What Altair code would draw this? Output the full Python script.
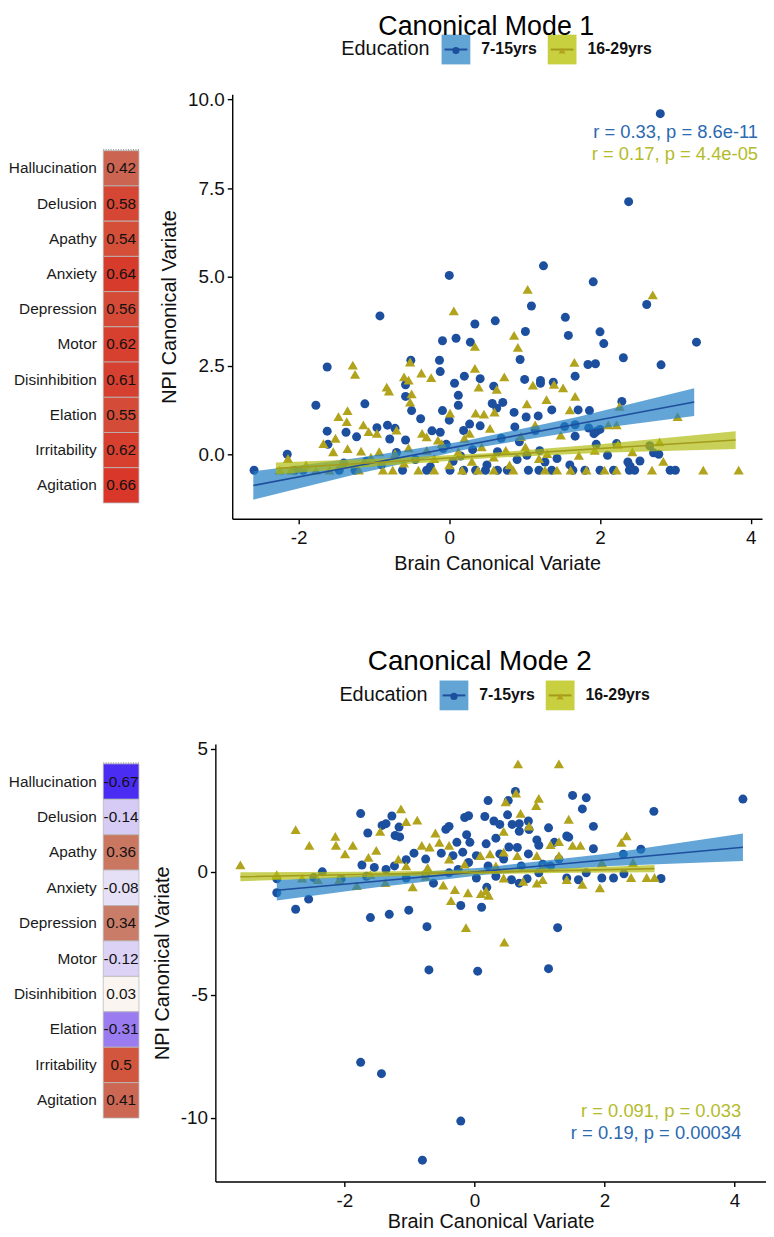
import altair as alt
import pandas as pd

# ---------------- data ----------------
symptoms = ["Hallucination", "Delusion", "Apathy", "Anxiety", "Depression",
            "Motor", "Disinhibition", "Elation", "Irritability", "Agitation"]
mode1_loadings = [0.42, 0.58, 0.54, 0.64, 0.56, 0.62, 0.61, 0.55, 0.62, 0.66]
mode2_loadings = [-0.67, -0.14, 0.36, -0.08, 0.34, -0.12, 0.03, -0.31, 0.5, 0.41]

loading_stops = [-0.67, -0.31, -0.14, -0.08, 0.03, 0.34, 0.42, 0.5, 0.66]
loading_colors = ["#4b2cf2", "#9a7cf0", "#d5cbf5", "#e6e0f7", "#faf5f0",
                  "#c97d68", "#cb6450", "#d2553d", "#d8372a"]

groups = ["7-15yrs", "16-29yrs"]
point_colors = ["#1d4f9f", "#b2a31c"]
point_sizes = [82, 105]
band_colors = ["#1f7fc4", "#b0bc10"]
line_colors = ["#1f4e9c", "#a39b1c"]
label_colors = ["#2b69b0", "#b4bb2a"]
legend_box_colors = ["#62a5d5", "#c8d040"]
shapes = ["circle", "triangle-up"]

# Mode 1, 7-15yrs (circles)
m1_c_x = [2.8, 2.38, 1.25, 0.0, 1.91, 2.62, 1.09, -0.92, 1.54, 0.61, 0.34, 1.01, 2.0, 1.58, 0.09,
          -0.09, 0.28, 2.05, 3.28, 0.94, -0.13, -0.51, 2.31, 1.84, 1.94, 2.81, -1.62, -0.12, 0.2, 1.67,
          0.41, 1.0, 1.21, 1.38, 1.21, 0.07, -0.58, 0.59, -0.58, 0.12, 0.71, 0.57, 2.29, -1.77, -1.12,
          0.12, 0.63, -0.5, -0.09, 1.71, 1.86, 1.36, 0.86, 1.18, -0.38, 1.02, 0.0, 0.41, 0.87, 0.27,
          1.67, 1.85, -0.82, -0.72, -0.96, -1.62, -1.37, -0.23, -0.12, 0.19, 1.14, 1.53, 1.95, 2.0, 1.67,
          1.92, 0.69, 0.93, -1.23, -0.79, -0.58, -0.04, -1.61, 1.95, 2.22, -0.08, 2.66, 2.71, 2.78, 2.1,
          -2.15, 2.53, 2.37, 2.4, 0.31, 0.64, 1.03, 1.27, 1.43,
          -2.59, -2.05, -1.94, -1.46, -1.25, -0.62, -0.3, 0.01, 0.19, 0.35, 0.48, 0.64, 0.77, 1.05, 1.19,
          1.36, 1.64, 1.8, 2.0, 2.18, 2.39, 2.46, 2.93, 3.0,
          -1.1, -0.9, -0.45, 0.05, 0.5, 0.9, 1.2, -0.7, -0.25, 1.6, 0.15, -1.4]
m1_c_y = [9.6, 7.12, 5.31, 5.04, 4.86, 4.22, 4.18, 3.9, 3.86, 3.76, 3.67, 3.46, 3.45, 3.35, 3.27,
          3.2, 3.16, 3.12, 3.16, 2.67, 2.65, 2.65, 2.72, 2.53, 2.55, 2.52, 2.46, 2.33, 2.2, 2.2,
          2.13, 2.11, 2.08, 2.03, 2.0, 2.0, 1.96, 1.92, 1.63, 1.66, 1.46, 1.43, 1.49, 1.38, 1.42,
          1.38, 1.3, 1.23, 1.23, 1.25, 1.23, 1.25, 1.18, 1.08, 1.0, 1.05, 0.96, 0.8, 0.77, 0.85,
          0.83, 0.74, 0.82, 0.73, 0.75, 0.65, 0.62, 0.66, 0.62, 0.67, 0.67, 0.78, 0.64, 0.7, 0.51,
          0.58, 0.45, 0.35, 0.49, 0.43, 0.4, 0.28, 0.28, 0.28, 0.3, 0.16, 0.24, 0.04, 0.0, -0.03,
          0.0, -0.19, -0.22, -0.34, 0.13, 0.07, -0.03, -0.22, -0.12,
          -0.45, -0.45, -0.45, -0.45, -0.45, -0.45, -0.45, -0.45, -0.45, -0.45, -0.45, -0.45, -0.45, -0.45, -0.45,
          -0.45, -0.45, -0.45, -0.45, -0.45, -0.45, -0.45, -0.45, -0.45,
          -0.2, -0.3, -0.15, -0.2, -0.3, -0.15, 0.1, 0.05, -0.35, -0.3, -0.05, -0.25]

# Mode 1, 16-29yrs (triangles)
m1_t_x = [2.7, 1.04, 0.06, 0.86, 0.91, 0.34, -0.52, -1.28, -1.25, 1.66, -0.37, -0.24, -0.6, -0.54, 0.73,
          0.34, 1.11, 1.39, 1.51, -0.83, -0.8, 0.63, 0.39, 1.67, -0.5, -0.52, 1.03, 1.29, 1.6, -1.47,
          -1.35, -1.36, 0.01, 0.35, 0.46, 0.6, 2.26, 3.03, -1.14, -1.07, -0.96, -0.7, -0.36, -0.3, -0.15,
          0.27, 0.54, 1.14, 1.48, 2.11, 2.22, 2.79, 2.24, -1.51, -1.67, -1.54, -1.35, -1.17, -0.93, -0.72,
          -0.54, -0.3, 0.12, 0.43, 0.75, 1.01, 1.3, 1.72, 1.93, 2.43, 2.84, -2.14, -1.04, -0.2, 0.59, 1.19,
          -2.25, -2.1, -1.77, -1.59, -1.2, -0.88, -0.75, -0.41, -0.2, 0.17, 0.38, 0.59, 0.85, 1.27, 1.43,
          1.61, 1.82, 2.06, 2.22, 2.69, 3.37, 3.84,
          -0.6, 0.0, 0.3, 0.8, -1.9, -0.1, 0.2, 0.95]
m1_t_y = [4.49, 4.65, 4.04, 3.35, 3.01, 3.04, 2.6, 2.51, 2.25, 2.59, 2.29, 2.16, 2.18, 2.09, 2.18,
          2.42, 1.95, 1.97, 1.87, 1.89, 1.78, 1.83, 1.89, 1.63, 1.7, 1.47, 1.42, 1.54, 1.25, 1.06,
          1.23, 0.92, 1.16, 1.16, 1.13, 1.19, 1.35, 1.06, 0.83, 0.64, 0.59, 0.68, 0.59, 0.49, 0.4,
          0.59, 0.73, 0.83, 0.54, 0.83, 0.83, 0.35, 0.28, 0.45, 0.3, 0.07, 0.16, 0.09, 0.07, 0.02,
          0.18, 0.11, 0.07, 0.21, 0.11, 0.21, 0.02, -0.03, 0.11, 0.07, -0.2, -0.12, -0.08, -0.12, -0.08, -0.12,
          -0.45, -0.45, -0.45, -0.45, -0.45, -0.45, -0.45, -0.45, -0.45, -0.45, -0.45, -0.45, -0.45, -0.45, -0.45,
          -0.45, -0.45, -0.45, -0.45, -0.45, -0.45, -0.45,
          -0.25, -0.3, -0.2, -0.3, -0.3, 0.3, 0.45, 0.5]

# Mode 2, 7-15yrs (circles)
m2_c_x = [4.13, 2.76, 1.51, 1.72, 1.66, 1.83, 1.83, 2.56, 2.29, 2.3, 2.87, 2.14, 1.96, 0.63, 0.52,
          0.21, 0.51, 0.16, -0.09, -0.15, -1.75, -1.27, -1.36, -1.42, -1.16, -1.22, -1.15, -1.64, -0.39, -0.44,
          0.3, 0.39, 0.58, 0.69, 0.83, 0.84, 0.69, 1.14, 1.45, 1.42, 1.23, 0.96, -0.12, -0.27, -0.07,
          0.18, 0.33, 0.53, 0.66, 0.99, 0.83, -0.93, -1.05, -0.75, -0.51, -0.33, -0.18, 0.03, 0.39, -1.73,
          -1.54, -1.36, -1.23, -2.34, -3.04, -3.04, -2.75, -2.55, -2.47, -2.05, -1.6, -1.31, -1.01, -0.73, -0.21,
          0.11, 0.19, -0.63, 0.69, 0.81, 1.28, -0.7, 0.05, 1.14, -1.75, -1.43, -0.21, -0.8,
          -1.66, -1.05, -0.75, -0.39, 0.03, 0.33, 0.57, 0.99, 1.17, 1.42, 1.6, 1.72, 1.3, 1.05,
          -0.25, -0.09, 0.21, 0.45, 0.72]
m2_c_y = [2.96, 2.46, 3.11, 3.01, 2.56, 1.85, 0.94, 0.92, 0.72, -0.08, -0.27, -0.25, -0.25, 3.27, 2.9,
          2.9, 2.32, 2.25, 2.28, 2.21, 2.37, 2.27, 1.96, 1.89, 1.82, 1.48, 1.42, 1.58, 1.85, 1.73,
          2.07, 1.93, 1.93, 1.96, 2.07, 1.72, 1.65, 1.79, 1.41, 1.46, 1.2, 1.3, 1.51, 1.2, 1.2,
          1.14, 1.37, 1.01, 0.99, 1.08, 0.73, 0.76, 0.49, 0.52, 0.76, 0.66, 0.8, 0.66, 0.73, 0.28,
          0.18, 0.1, 0.24, 0.0, -0.28, -0.85, -1.52, -1.11, -0.23, -0.28, -1.86, -1.73, -1.56, -2.23, -1.37,
          -1.44, -0.63, -0.46, -0.46, -0.28, -2.27, -3.99, -4.04, -3.94, -7.75, -8.21, -10.14, -11.73,
          -0.18, -0.25, -0.11, -0.04, -0.25, -0.18, -0.32, -0.04, 0.24, -0.25, -0.32, -0.04, 0.52, 0.31,
          0.1, 0.38, 0.24, 0.52, 0.24]

# Mode 2, 16-29yrs (triangles)
m2_t_x = [0.67, 1.3, 0.64, 0.99, 0.95, 0.48, -1.13, 1.45, 0.71, -0.88, -2.75, -1.05, -1.45, -0.6, 0.45,
          0.84, -2.14, 2.34, 2.26, -2.54, -1.87, -2.13, -1.99, -1.51, -0.81, -0.69, -0.54, -0.39, 1.17, 1.3,
          1.51, 1.63, -0.39, 0.09, 0.24, 0.45, 0.66, 0.96, 1.3, -3.6, -1.17, -1.63, -1.05, -0.72, -0.15,
          0.33, 1.05, 1.96, 2.44, -2.65, -2.41, -2.08, -1.81, -1.37, -0.95, -0.48, -0.3, -0.1, 0.18, 0.22,
          -0.36, 0.1, 0.75, 0.96, 1.66, 1.93, 2.41, 2.65, 2.77, 1.05, 1.42, -0.13, 0.46,
          0.45, -0.75, -1.6, -3.04]
m2_t_y = [4.39, 4.39, 3.2, 2.99, 2.7, 2.85, 2.56, 2.14, 2.38, 2.1, 1.72, 2.04, 1.65, 1.58, 1.65,
          1.86, 1.44, 1.46, 1.2, 1.08, 1.08, 1.08, 0.73, 0.87, 1.08, 1.01, 1.2, 1.08, 1.11, 1.23,
          1.08, 1.08, 0.52, 0.66, 0.73, 0.8, 0.66, 0.66, 0.66, 0.28, 0.52, 0.59, 0.24, 0.17, 0.31,
          0.24, 0.17, 0.38, 0.38, -0.25, -0.32, -0.32, -0.56, -0.44, -0.61, -0.54, -0.72, -0.85, -0.77, -0.96,
          -1.17, -0.89, -0.39, -0.46, -0.51, -0.65, -0.23, -0.23, -0.23, -0.32, -0.32, -2.27, -2.86,
          -0.25, -0.18, -0.11, -0.11]

# regression fits: x, fitted value, lower and upper confidence limits
m1_c_fit_x = [-2.6, -1.2, 0.2, 1.7, 3.25]
m1_c_fit = [-0.88, -0.32, 0.25, 0.85, 1.47]
m1_c_lo = [-1.28, -0.54, 0.13, 0.65, 1.08]
m1_c_hi = [-0.48, -0.10, 0.37, 1.05, 1.86]
m1_t_fit_x = [-2.3, -0.8, 0.5, 2.0, 3.8]
m1_t_fit = [-0.40, -0.21, -0.04, 0.16, 0.40]
m1_t_lo = [-0.57, -0.31, -0.11, 0.04, 0.15]
m1_t_hi = [-0.23, -0.11, 0.03, 0.28, 0.65]
m2_c_fit_x = [-3.04, -1.5, 0.2, 2.0, 4.13]
m2_c_fit = [-0.75, -0.38, 0.04, 0.48, 1.0]
m2_c_lo = [-1.17, -0.63, -0.11, 0.23, 0.44]
m2_c_hi = [-0.33, -0.13, 0.19, 0.73, 1.56]
m2_t_fit_x = [-3.6, -1.8, 0.0, 1.5, 2.77]
m2_t_fit = [-0.2, -0.11, -0.02, 0.06, 0.13]
m2_t_lo = [-0.38, -0.22, -0.10, -0.04, -0.02]
m2_t_hi = [-0.02, 0.0, 0.06, 0.16, 0.28]

# correlation labels, in the order of `groups`
m1_stats = ["r = 0.33, p = 8.6e-11", "r = 0.17, p = 4.4e-05"]
m2_stats = ["r = 0.19, p = 0.00034", "r = 0.091, p = 0.033"]

FONT = "Liberation Sans"
MINUS_FIX = "replace(datum.label, '\u2212', '-')"


def heatmap(loadings, top, cell_h, width=36):
    df = pd.DataFrame({"symptom": symptoms, "loading": loadings,
                       "label": [f"{v:g}" for v in loadings]})
    yenc = alt.Y("symptom:N", sort=symptoms,
                 scale=alt.Scale(range=[top, top + cell_h], paddingInner=0, paddingOuter=0),
                 axis=alt.Axis(title=None, domain=False, ticks=False, labelFontSize=15.5,
                               labelFont=FONT, labelColor="#1a1a1a", labelPadding=7))
    rect = alt.Chart(df).mark_rect(stroke="#b9b9b9", strokeWidth=0.8).encode(
        y=yenc,
        fill=alt.Fill("loading:Q", legend=None,
                      scale=alt.Scale(domain=loading_stops, range=loading_colors, interpolate="rgb")))
    txt = alt.Chart(df).mark_text(fontSize=15.5, font=FONT, color="#111111").encode(
        y=yenc, x=alt.value(width / 2), text="label:N")
    edge = alt.Chart(pd.DataFrame({"symptom": [symptoms[0]]})).mark_rule(
        color="#9a9a9a", strokeDash=[1, 1.5], strokeWidth=1.5).encode(
        x=alt.value(0), x2=alt.value(width), y=alt.value(top - 1))
    return alt.layer(rect, txt, edge).properties(width=width, height=top + cell_h + 2)


def scatter(cx, cy, tx, ty, fits, xdom, ydom, yvals, yexpr, width, height,
            title, stats, stat_y, stat_order, stat_right, leg_left, leg_y, title_dx, title_offset,
            xtitle_pad, title_size):
    pts = pd.DataFrame({"x": cx + tx, "y": cy + ty,
                        "group": [groups[0]] * len(cx) + [groups[1]] * len(tx)})
    rows = []
    for g, (fx, ff, flo, fhi) in zip(groups, fits):
        for a, b, c, d in zip(fx, ff, flo, fhi):
            rows.append({"group": g, "x": a, "fit": b, "lo": c, "hi": d})
    fitdf = pd.DataFrame(rows)

    xscale = alt.Scale(domain=xdom, nice=False, zero=False)
    yscale = alt.Scale(domain=ydom, nice=False, zero=False)
    ax = dict(grid=False, domainColor="#000000", domainWidth=1.4, tickColor="#000000",
              tickWidth=1.4, tickSize=5, labelFontSize=19, labelFont=FONT, labelColor="#111111",
              titleFontSize=20, titleFont=FONT, titleFontWeight="normal", titleColor="#111111")
    xaxis = alt.Axis(title="Brain Canonical Variate", values=[-2, 0, 2, 4], labelExpr=MINUS_FIX,
                     labelPadding=5, titlePadding=xtitle_pad, **ax)
    yaxis = alt.Axis(title="NPI Canonical Variate", values=yvals, labelExpr=yexpr,
                     labelPadding=3, titlePadding=8, **ax)

    points = alt.Chart(pts).mark_point(filled=True, opacity=1).encode(
        x=alt.X("x:Q", scale=xscale, axis=xaxis),
        y=alt.Y("y:Q", scale=yscale, axis=yaxis),
        color=alt.Color("group:N", scale=alt.Scale(domain=groups, range=point_colors), legend=None),
        shape=alt.Shape("group:N", scale=alt.Scale(domain=groups, range=shapes), legend=None),
        size=alt.Size("group:N", scale=alt.Scale(domain=groups, range=point_sizes), legend=None),
    )
    band = alt.Chart(fitdf).mark_area(opacity=0.7).encode(
        x=alt.X("x:Q", scale=xscale, axis=xaxis),
        y=alt.Y("lo:Q", scale=yscale, axis=yaxis),
        y2="hi:Q",
        fill=alt.Fill("group:N", scale=alt.Scale(domain=groups, range=band_colors), legend=None),
    )
    line = alt.Chart(fitdf).mark_line(strokeWidth=1.6).encode(
        x=alt.X("x:Q", scale=xscale, axis=xaxis),
        y=alt.Y("fit:Q", scale=yscale, axis=yaxis),
        stroke=alt.Stroke("group:N", scale=alt.Scale(domain=groups, range=line_colors), legend=None),
    )
    layers = [points, band, line]

    # correlation annotations
    for k, gi in enumerate(stat_order):
        sd = pd.DataFrame({"label": [stats[gi]]})
        layers.append(alt.Chart(sd).mark_text(align="right", baseline="middle", fontSize=18.5,
                                              font=FONT, color=label_colors[gi]).encode(
            x=alt.value(stat_right), y=alt.value(stat_y[k]), text="label:N"))

    # legend (drawn above the plot)
    ld = pd.DataFrame({"label": ["Education"]})
    layers.append(alt.Chart(ld).mark_text(align="left", baseline="middle", fontSize=20,
                                          font=FONT, color="#111111").encode(
        x=alt.value(leg_left[0]), y=alt.value(leg_y), text="label:N"))
    for i, g in enumerate(groups):
        bx = leg_left[1 + i]
        gd = pd.DataFrame({"label": [g]})
        layers.append(alt.Chart(gd).mark_rect(color=legend_box_colors[i]).encode(
            x=alt.value(bx), x2=alt.value(bx + 29), y=alt.value(leg_y - 15), y2=alt.value(leg_y + 15)))
        layers.append(alt.Chart(gd).mark_rule(color=line_colors[i], strokeWidth=2).encode(
            x=alt.value(bx + 3), x2=alt.value(bx + 26), y=alt.value(leg_y)))
        layers.append(alt.Chart(gd).mark_point(shape=shapes[i], filled=True, size=52, opacity=1,
                                               color=point_colors[i]).encode(
            x=alt.value(bx + 14.5), y=alt.value(leg_y + 1)))
        layers.append(alt.Chart(gd).mark_text(align="left", baseline="middle", fontSize=16,
                                              fontWeight="bold", font=FONT, color="#111111").encode(
            x=alt.value(bx + 40), y=alt.value(leg_y), text="label:N"))

    return alt.layer(*layers).properties(
        width=width, height=height,
        title=alt.TitleParams(title, fontSize=title_size, font=FONT, fontWeight="normal",
                              color="#000000", anchor="middle", frame="group", dx=title_dx,
                              offset=title_offset))


top_scatter = scatter(
    m1_c_x, m1_c_y, m1_t_x, m1_t_y,
    [(m1_c_fit_x, m1_c_fit, m1_c_lo, m1_c_hi), (m1_t_fit_x, m1_t_fit, m1_t_lo, m1_t_hi)],
    [-2.88, 4.15], [-1.82, 10.15], [0, 2.5, 5, 7.5, 10], "format(datum.value, '.1f')",
    534, 428, "Canonical Mode 1", m1_stats, [38, 60], [0, 1], 530,
    [110, 211, 318], -45, -11, -6, 6, 27)

bottom_scatter = scatter(
    m2_c_x, m2_c_y, m2_t_x, m2_t_y,
    [(m2_c_fit_x, m2_c_fit, m2_c_lo, m2_c_hi), (m2_t_fit_x, m2_t_fit, m2_t_lo, m2_t_hi)],
    [-3.985, 4.485], [-12.6, 5.2], [-10, -5, 0, 5], MINUS_FIX,
    555, 441, "Canonical Mode 2", m2_stats, [370, 392], [1, 0], 530,
    [125, 226, 333], -49, -11, 5, 1, 28)

row1 = alt.hconcat(heatmap(mode1_loadings, 57, 355), top_scatter, spacing=20)
row2 = alt.hconcat(heatmap(mode2_loadings, 20, 357), bottom_scatter, spacing=12)

chart = alt.vconcat(row1, row2, spacing=75).properties(
    padding={"left": 0, "top": 0, "right": 0, "bottom": -3}
).configure(font=FONT).configure_view(stroke=None)

chart.save("out.html", embed_options={"renderer": "svg", "actions": False})
